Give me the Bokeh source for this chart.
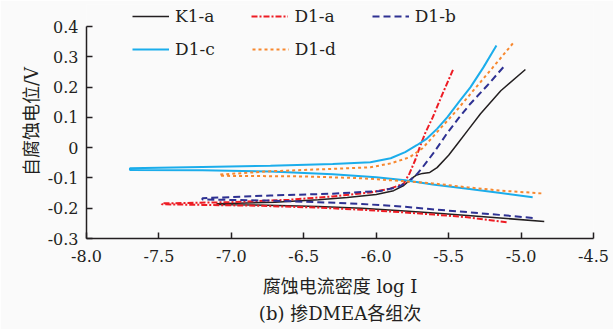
from bokeh.plotting import figure
from bokeh.models import Range1d, FixedTicker, Legend, LegendItem, Title
from bokeh.embed import file_html
from bokeh.resources import INLINE

# ---- data (log I, potential V); each path: cathodic branch right->left, then anodic branch left->right ----
k1a_x = [-4.84, -5.10, -5.37, -5.60, -5.83, -6.10, -6.40, -6.75, -7.10,
         -7.10, -6.70, -6.40, -6.20, -6.00, -5.88, -5.81, -5.75, -5.72, -5.68, -5.63, -5.58, -5.50, -5.44, -5.36, -5.28, -5.14, -4.97]
k1a_y = [-0.244, -0.234, -0.224, -0.216, -0.208, -0.200, -0.194, -0.190, -0.188,
         -0.185, -0.180, -0.172, -0.165, -0.155, -0.142, -0.125, -0.100, -0.090, -0.085, -0.082, -0.066, -0.025, 0.012, 0.062, 0.112, 0.188, 0.258]

d1a_x = [-5.10, -5.37, -5.60, -5.83, -6.10, -6.40, -6.80, -7.20, -7.48,
         -7.48, -7.00, -6.60, -6.30, -6.04, -5.90, -5.81, -5.77, -5.73, -5.70, -5.66, -5.61, -5.54, -5.47]
d1a_y = [-0.246, -0.230, -0.221, -0.213, -0.205, -0.198, -0.192, -0.189, -0.187,
         -0.184, -0.180, -0.172, -0.161, -0.148, -0.135, -0.119, -0.085, -0.040, 0.001, 0.050, 0.100, 0.180, 0.257]

d1b_x = [-4.92, -5.15, -5.37, -5.60, -5.83, -6.10, -6.40, -6.73, -7.20,
         -7.20, -6.73, -6.30, -5.97, -5.85, -5.77, -5.72, -5.68, -5.60, -5.51, -5.43, -5.35, -5.23, -5.12]
d1b_y = [-0.232, -0.222, -0.213, -0.204, -0.194, -0.186, -0.180, -0.175, -0.171,
         -0.167, -0.158, -0.152, -0.143, -0.130, -0.110, -0.088, -0.065, -0.015, 0.048, 0.098, 0.145, 0.207, 0.267]

d1c_x = [-4.92, -5.14, -5.37, -5.61, -5.80, -6.00, -6.30, -6.73, -7.20, -7.70,
         -7.70, -7.20, -6.73, -6.30, -6.04, -5.90, -5.80, -5.72, -5.65, -5.58, -5.51, -5.43, -5.35, -5.26, -5.17]
d1c_y = [-0.164, -0.150, -0.136, -0.122, -0.108, -0.098, -0.088, -0.079, -0.075, -0.074,
         -0.068, -0.064, -0.060, -0.054, -0.048, -0.035, -0.015, 0.008, 0.030, 0.062, 0.100, 0.150, 0.199, 0.265, 0.337]

d1d_x = [-4.86, -5.14, -5.37, -5.61, -5.83, -6.10, -6.50, -7.08,
         -7.08, -6.73, -6.30, -6.04, -5.90, -5.77, -5.68, -5.56, -5.45, -5.35, -5.20, -5.05]
d1d_y = [-0.151, -0.142, -0.131, -0.118, -0.110, -0.101, -0.095, -0.093,
         -0.089, -0.078, -0.070, -0.065, -0.052, -0.032, -0.002, 0.062, 0.120, 0.177, 0.262, 0.348]

series_names = ["K1-a", "D1-a", "D1-b", "D1-c", "D1-d"]

x_ticks = [-8.0, -7.5, -7.0, -6.5, -6.0, -5.5, -5.0, -4.5]
x_tick_labels = ["-8.0", "-7.5", "-7.0", "-6.5", "-6.0", "-5.5", "-5.0", "-4.5"]
y_ticks = [-0.3, -0.2, -0.1, 0.0, 0.1, 0.2, 0.3, 0.4]
y_tick_labels = ["-0.3", "-0.2", "-0.1", "0", "0.1", "0.2", "0.3", "0.4"]

x_label = "腐蚀电流密度 log I"
y_label = "自腐蚀电位/V"
caption = "(b) 掺DMEA各组次"

SERIF = "DejaVu Serif"
MIXED = "DejaVu Serif, Noto Sans CJK SC"
INK = "#231f20"
BG = "#fafafa"

# frame: 507 x 212 px for the axis extent; extra 22 px headroom above 0.4 for the legend
FRAME_H_AXIS = 212
HEAD = 22
y_lo, y_hi = y_ticks[0], y_ticks[-1]
y_top = y_hi + HEAD * (y_hi - y_lo) / FRAME_H_AXIS

p = figure(width=613, height=329, output_backend="svg", toolbar_location=None,
           x_range=Range1d(x_ticks[0], x_ticks[-1]), y_range=Range1d(y_lo, y_top),
           min_border_left=86, min_border_right=20, min_border_top=4, min_border_bottom=91)
p.background_fill_color = BG
p.border_fill_color = BG
p.outline_line_color = None
p.grid.visible = False

for ax, ticks, labels in ((p.xaxis[0], x_ticks, x_tick_labels), (p.yaxis[0], y_ticks, y_tick_labels)):
    ax.ticker = FixedTicker(ticks=ticks)
    ax.bounds = (ticks[0], ticks[-1])
    ax.major_label_overrides = {t: l for t, l in zip(ticks, labels)}
    ax.major_tick_in = 6
    ax.major_tick_out = 0
    ax.minor_tick_line_color = None
    ax.axis_line_color = INK
    ax.axis_line_width = 1.5
    ax.major_tick_line_color = INK
    ax.major_tick_line_width = 1.5
    ax.major_label_text_font = SERIF
    ax.major_label_text_font_size = "16px"
    ax.major_label_text_color = INK
    ax.axis_label_text_font = MIXED
    ax.axis_label_text_font_style = "normal"
    ax.axis_label_text_color = INK
p.xaxis.major_label_standoff = 11
p.yaxis.major_label_standoff = 8
p.xaxis.axis_label = x_label
p.xaxis.axis_label_text_font_size = "18px"
p.xaxis.axis_label_standoff = 11
p.yaxis.axis_label = y_label
p.yaxis.axis_label_text_font_size = "18px"
p.yaxis.axis_label_standoff = 3

r_k1a = p.line(k1a_x, k1a_y, line_color=INK, line_width=1.5)
r_d1a = p.line(d1a_x, d1a_y, line_color="#ed1c24", line_width=2, line_dash="6 2 2 2")
r_d1b = p.line(d1b_x, d1b_y, line_color="#2e3192", line_width=2, line_dash="7 4")
r_d1c = p.line(d1c_x, d1c_y, line_color="#1badeb", line_width=2)
r_d1d = p.line(d1d_x, d1d_y, line_color="#f7882f", line_width=2, line_dash="3 3")
rends = [r_k1a, r_d1a, r_d1b, r_d1c, r_d1d]

def make_legend(items, loc):
    lg = Legend(items=items, location=loc, orientation="horizontal")
    lg.padding = 0
    lg.margin = 0
    lg.spacing = 37
    lg.glyph_width = 37
    lg.glyph_height = 20
    lg.label_height = 20
    lg.label_standoff = 6
    lg.label_text_font = SERIF
    lg.label_text_font_size = "17px"
    lg.label_text_color = INK
    lg.border_line_color = None
    lg.background_fill_alpha = 0
    return lg

items = [LegendItem(label=n, renderers=[r]) for n, r in zip(series_names, rends)]
# location = bottom-left corner of each legend row, in px from the frame's bottom-left
p.add_layout(make_legend(items[:3], (46, 212)))
p.add_layout(make_legend(items[3:], (46, 179)))

cap = Title(text=caption, align="center", text_font=MIXED, text_font_size="18px",
            text_font_style="normal", text_color=INK, standoff=3, offset=-2)
p.add_layout(cap, "below")

open("out.html", "w").write(file_html(p, INLINE))
